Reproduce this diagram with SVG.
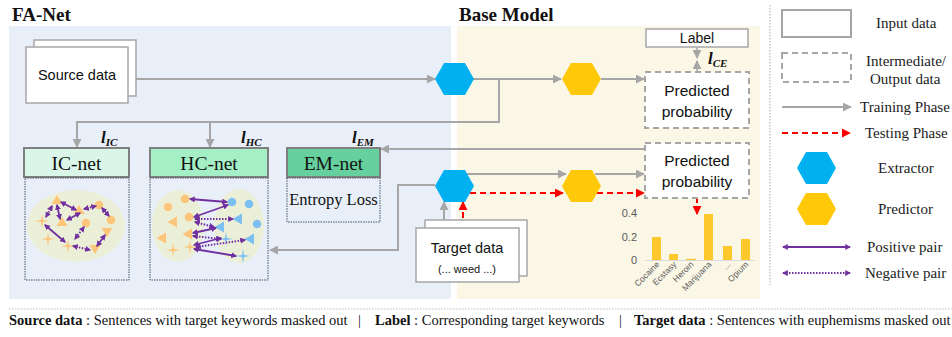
<svg xmlns="http://www.w3.org/2000/svg" width="952" height="337" viewBox="0 0 952 337">
<style>
.ttl{font-family:"Liberation Serif","Times New Roman",serif;font-weight:bold;font-size:19px;fill:#111}
.sans{font-family:"Liberation Sans",Arial,sans-serif;fill:#111}
.serif{font-family:"Liberation Serif","Times New Roman",serif;fill:#111}
.loss{font-family:"Liberation Serif","Times New Roman",serif;font-weight:bold;font-style:italic;fill:#111}
.inbox{fill:#fff;stroke:#a6a6a6;stroke-width:1.5}
.dbox{fill:#fff;stroke:#a6a6a6;stroke-width:2;stroke-dasharray:6 4}
.hdr{stroke:#7f7f7f;stroke-width:2}
.dot{fill:none;stroke:#44546a;stroke-width:1;stroke-dasharray:1.5 1}
.gl{fill:none;stroke:#a6a6a6;stroke-width:2}
.rl{fill:none;stroke:#ff0000;stroke-width:2;stroke-dasharray:6 4}
.ext{fill:#00b0f0}
.pre{fill:#ffc90a}
.pp{fill:none;stroke:#7030a0;stroke-width:1.8}
.np{fill:none;stroke:#7030a0;stroke-width:2;stroke-dasharray:1.5 1.5}
.o{fill:#fcc57a}
.b{fill:#7cc0f2}
.bar{fill:#fcc82c}
.ax{font-family:"Liberation Sans",Arial,sans-serif;font-size:11px;fill:#595959}
.xl{font-family:"Liberation Sans",Arial,sans-serif;font-size:8.5px;fill:#595959}
.leg{font-family:"Liberation Serif","Times New Roman",serif;font-size:15px;fill:#222}
.ft{font-family:"Liberation Serif","Times New Roman",serif;font-size:14.5px;fill:#111}
</style>
<defs>
<marker id="ag" viewBox="0 0 10 10" refX="9" refY="5" markerWidth="9" markerHeight="9" markerUnits="userSpaceOnUse" orient="auto"><path d="M0,0 L10,5 L0,10 z" fill="#a6a6a6"/></marker>
<marker id="ar" viewBox="0 0 10 10" refX="9" refY="5" markerWidth="9" markerHeight="9" markerUnits="userSpaceOnUse" orient="auto"><path d="M0,0 L10,5 L0,10 z" fill="#ff0000"/></marker>
<marker id="ap" viewBox="0 0 10 10" refX="8" refY="5" markerWidth="6" markerHeight="6" markerUnits="userSpaceOnUse" orient="auto-start-reverse"><path d="M0,0 L10,5 L0,10 z" fill="#7030a0"/></marker>
<circle id="cir" r="4.3"/>
<path id="tu" d="M0,-5 L5.5,4 L-5.5,4Z"/>
<path id="td" d="M0,5 L5.5,-4 L-5.5,-4Z"/>
<path id="tl" d="M-5.5,0 L4,-5.5 L4,5.5Z"/>
<path id="st" d="M0,-7 L1,-1 L7,0 L1,1 L0,7 L-1,1 L-7,0 L-1,-1Z"/>
<path id="hex" d="M0,0 L9,-16 L30,-16 L39,0 L30,16 L9,16Z"/>
</defs>

<!-- backgrounds -->
<rect x="9" y="26" width="442" height="273" fill="#e9eff9"/>
<rect x="457" y="26" width="303" height="273" fill="#fbf7e7"/>
<line x1="770" y1="5" x2="770" y2="285" stroke="#aaa" stroke-width="1" stroke-dasharray="1.5 1.5"/>
<line x1="9" y1="309" x2="952" y2="309" stroke="#bbb" stroke-width="1" stroke-dasharray="1.5 1.5"/>

<text class="ttl" x="12" y="21">FA-Net</text>
<text class="ttl" x="459" y="21">Base Model</text>

<!-- connectors -->
<g id="connectors">
<line class="gl" x1="136" y1="79" x2="435" y2="79" marker-end="url(#ag)"/>
<line class="gl" x1="473" y1="79" x2="561" y2="79" marker-end="url(#ag)"/>
<line class="gl" x1="601" y1="79" x2="644" y2="79" marker-end="url(#ag)"/>
<polyline class="gl" points="499,79 499,122 77,122 77,147" marker-end="url(#ag)"/>
<line class="gl" x1="210" y1="122" x2="210" y2="147" marker-end="url(#ag)"/>
<line class="gl" x1="697" y1="48" x2="697" y2="58" marker-end="url(#ag)" style="stroke-width:1.5"/>
<line class="gl" x1="697" y1="71" x2="697" y2="61" marker-end="url(#ag)" style="stroke-width:1.5"/>
<line class="gl" x1="645" y1="149" x2="381" y2="149" marker-end="url(#ag)"/>
<polyline class="gl" points="435,185 398,185 398,250 270,250" marker-end="url(#ag)"/>
<line class="gl" x1="444" y1="220" x2="444" y2="202" marker-end="url(#ag)"/>
<line class="rl" x1="463" y1="228" x2="463" y2="202" marker-end="url(#ar)"/>
<line class="gl" x1="467" y1="174" x2="566" y2="174" marker-end="url(#ag)"/>
<line class="rl" x1="470" y1="193" x2="563" y2="193" marker-end="url(#ar)"/>
<line class="gl" x1="595" y1="174" x2="644" y2="174" marker-end="url(#ag)"/>
<line class="rl" x1="597" y1="193" x2="644" y2="193" marker-end="url(#ar)"/>
<line class="rl" x1="697" y1="199" x2="697" y2="214" marker-end="url(#ar)" style="stroke-dasharray:4 3"/>
</g>

<!-- loss labels -->
<text class="loss" x="101" y="143" font-size="17">l<tspan font-size="11" dy="3">IC</tspan></text>
<text class="loss" x="241" y="143" font-size="17">l<tspan font-size="11" dy="3">HC</tspan></text>
<text class="loss" x="352" y="143" font-size="17">l<tspan font-size="11" dy="3">EM</tspan></text>
<text class="loss" x="708" y="64" font-size="17">l<tspan font-size="11" dy="3">CE</tspan></text>

<g id="source-data">
<rect class="inbox" x="34" y="40" width="102" height="56"/>
<rect class="inbox" x="26" y="47" width="102" height="56"/>
<text class="sans" x="77" y="80" font-size="14.5" text-anchor="middle">Source data</text>
</g>

<g id="extractor-train"><use href="#hex" x="435" y="79" class="ext"/></g>
<g id="predictor-train"><use href="#hex" x="562" y="79" class="pre"/></g>
<g id="extractor-test"><use href="#hex" x="435" y="186" class="ext"/></g>
<g id="predictor-test"><use href="#hex" x="562" y="186" class="pre"/></g>

<g id="label">
<rect class="inbox" x="646" y="29" width="102" height="18"/>
<text class="sans" x="697" y="43" font-size="14" text-anchor="middle">Label</text>
</g>

<g id="pred-train">
<rect class="dbox" x="645" y="72" width="104" height="56"/>
<text class="sans" x="697" y="96" font-size="15.5" text-anchor="middle">Predicted</text>
<text class="sans" x="697" y="117" font-size="15.5" text-anchor="middle">probability</text>
</g>

<g id="pred-test">
<rect class="dbox" x="645" y="143" width="104" height="55"/>
<text class="sans" x="697" y="166" font-size="15.5" text-anchor="middle">Predicted</text>
<text class="sans" x="697" y="187" font-size="15.5" text-anchor="middle">probability</text>
</g>

<g id="target-data">
<rect class="inbox" x="425" y="220" width="102" height="56"/>
<rect class="inbox" x="416" y="228" width="103" height="54"/>
<text class="sans" x="467" y="253" font-size="14.5" text-anchor="middle">Target data</text>
<text class="sans" x="467" y="273" font-size="11" text-anchor="middle">(... weed ...)</text>
</g>

<g id="ic-net">
<rect class="hdr" x="24" y="148" width="105" height="29" fill="#d9f6e9"/>
<text class="serif" x="76.5" y="170" font-size="19.5" text-anchor="middle">IC-net</text>
<rect class="dot" x="25" y="178" width="104" height="102"/>
<ellipse cx="76" cy="226" rx="49" ry="36" fill="#ecefd7"/>
<use href="#tu" x="57" y="200" class="o"/>
<use href="#tu" x="79" y="210" class="o"/>
<use href="#tu" x="62" y="222" class="o"/>
<use href="#cir" x="99" y="205" class="o"/>
<use href="#cir" x="111" y="220" class="o"/>
<use href="#cir" x="86" y="223" class="o"/>
<use href="#td" x="107" y="232" class="o"/>
<use href="#td" x="95" y="249" class="o"/>
<use href="#st" x="42" y="221" class="o"/>
<use href="#st" x="48" y="239" class="o"/>
<use href="#st" x="68" y="246" class="o"/>
<line class="pp" x1="61" y1="202" x2="76" y2="210" marker-start="url(#ap)" marker-end="url(#ap)"/>
<line class="pp" x1="57" y1="205" x2="60" y2="219" marker-start="url(#ap)" marker-end="url(#ap)"/>
<line class="np" x1="52" y1="206" x2="46" y2="217" marker-start="url(#ap)" marker-end="url(#ap)"/>
<line class="pp" x1="67" y1="220" x2="80" y2="213" marker-start="url(#ap)" marker-end="url(#ap)"/>
<line class="np" x1="84" y1="209" x2="96" y2="206" marker-start="url(#ap)" marker-end="url(#ap)"/>
<line class="pp" x1="102" y1="208" x2="109" y2="216" marker-start="url(#ap)" marker-end="url(#ap)"/>
<line class="pp" x1="45" y1="225" x2="65" y2="242" marker-start="url(#ap)" marker-end="url(#ap)"/>
<line class="np" x1="84" y1="227" x2="75" y2="239" marker-start="url(#ap)" marker-end="url(#ap)"/>
<line class="np" x1="73" y1="246" x2="90" y2="250" marker-start="url(#ap)" marker-end="url(#ap)"/>
<line class="pp" x1="97" y1="246" x2="105" y2="235" marker-start="url(#ap)" marker-end="url(#ap)"/>
</g>

<g id="hc-net">
<rect class="hdr" x="150" y="148" width="118" height="29" fill="#a4efc6"/>
<text class="serif" x="209" y="170" font-size="19.5" text-anchor="middle">HC-net</text>
<rect class="dot" x="150" y="178" width="118" height="102"/>
<ellipse cx="178" cy="226" rx="26" ry="36" fill="#ecefd7"/>
<ellipse cx="239" cy="226" rx="25" ry="37" fill="#ecefd7"/>
<use href="#cir" x="185" y="199" class="o"/>
<use href="#cir" x="168" y="207" class="o"/>
<use href="#cir" x="189" y="217" class="o"/>
<use href="#tl" x="173" y="222" class="o"/>
<use href="#tl" x="188" y="234" class="o"/>
<use href="#tl" x="162" y="238" class="o"/>
<use href="#st" x="173" y="250" class="o"/>
<use href="#st" x="190" y="247" class="o"/>
<use href="#cir" x="232" y="202" class="b"/>
<use href="#cir" x="249" y="204" class="b"/>
<use href="#tl" x="238" y="219" class="b"/>
<use href="#tl" x="220" y="227" class="b"/>
<use href="#cir" x="257" y="224" class="b"/>
<use href="#st" x="226" y="239" class="b"/>
<use href="#tl" x="250" y="239" class="b"/>
<use href="#st" x="243" y="256" class="b"/>
<line class="pp" x1="190" y1="199" x2="227" y2="202" marker-start="url(#ap)" marker-end="url(#ap)"/>
<line class="pp" x1="194" y1="217" x2="228" y2="205" marker-start="url(#ap)" marker-end="url(#ap)"/>
<line class="np" x1="195" y1="219" x2="233" y2="219" marker-start="url(#ap)" marker-end="url(#ap)"/>
<line class="np" x1="195" y1="222" x2="214" y2="227" marker-start="url(#ap)" marker-end="url(#ap)"/>
<line class="pp" x1="193" y1="233" x2="216" y2="228" marker-start="url(#ap)" marker-end="url(#ap)"/>
<line class="np" x1="193" y1="236" x2="221" y2="239" marker-start="url(#ap)" marker-end="url(#ap)"/>
<line class="pp" x1="194" y1="245" x2="221" y2="238" marker-start="url(#ap)" marker-end="url(#ap)"/>
<line class="np" x1="196" y1="247" x2="245" y2="240" marker-start="url(#ap)" marker-end="url(#ap)"/>
<line class="pp" x1="194" y1="249" x2="236" y2="256" marker-start="url(#ap)" marker-end="url(#ap)"/>
</g>

<g id="em-net">
<rect class="hdr" x="287" y="148" width="93" height="29" fill="#66d19e"/>
<text class="serif" x="333.5" y="170" font-size="19.5" text-anchor="middle">EM-net</text>
<rect class="dot" x="287" y="178" width="93" height="44"/>
<text class="serif" x="333.5" y="205" font-size="16.5" text-anchor="middle">Entropy Loss</text>
</g>

<g id="chart">
<line x1="645" y1="260.5" x2="755" y2="260.5" stroke="#d9d9d9" stroke-width="1"/>
<text class="ax" x="637" y="217" text-anchor="end">0.4</text>
<text class="ax" x="637" y="241" text-anchor="end">0.2</text>
<text class="ax" x="637" y="264" text-anchor="end">0</text>
<rect class="bar" x="652" y="237" width="9" height="23"/>
<rect class="bar" x="669" y="254" width="9" height="6"/>
<rect class="bar" x="686" y="258.8" width="10" height="1.2"/>
<rect class="bar" x="704" y="214" width="9" height="46"/>
<rect class="bar" x="723" y="246" width="9" height="14"/>
<rect class="bar" x="741" y="239" width="9" height="21"/>
<text class="xl" transform="translate(660,265) rotate(-45)" text-anchor="end">Cocaine</text>
<text class="xl" transform="translate(677,265) rotate(-45)" text-anchor="end">Ecstasy</text>
<text class="xl" transform="translate(694,265) rotate(-45)" text-anchor="end">Heroin</text>
<text class="xl" transform="translate(712,265) rotate(-45)" text-anchor="end">Marijuana</text>
<text class="xl" transform="translate(731,265) rotate(-45)" text-anchor="end">...</text>
<text class="xl" transform="translate(749,265) rotate(-45)" text-anchor="end">Opium</text>
</g>

<g id="legend">
<rect x="782" y="10" width="69" height="27" fill="#fff" stroke="#a6a6a6" stroke-width="2"/>
<text class="leg" x="876" y="28">Input data</text>
<rect x="782" y="53" width="69" height="29" fill="#fff" stroke="#a6a6a6" stroke-width="2" stroke-dasharray="6 4"/>
<text class="leg" x="866" y="66">Intermediate/</text>
<text class="leg" x="870" y="84">Output data</text>
<line class="gl" x1="782" y1="107" x2="851" y2="107" marker-end="url(#ag)"/>
<text class="leg" x="860" y="112">Training Phase</text>
<line class="rl" x1="782" y1="133" x2="850" y2="133" marker-end="url(#ar)"/>
<text class="leg" x="865" y="138">Testing Phase</text>
<use href="#hex" x="797" y="168" class="ext"/>
<text class="leg" x="878" y="173">Extractor</text>
<use href="#hex" x="797" y="209" class="pre"/>
<text class="leg" x="878" y="214">Predictor</text>
<line class="pp" x1="783" y1="247" x2="850" y2="247" marker-start="url(#ap)" marker-end="url(#ap)"/>
<text class="leg" x="867" y="252">Positive pair</text>
<line class="np" x1="783" y1="273" x2="850" y2="273" marker-start="url(#ap)" marker-end="url(#ap)"/>
<text class="leg" x="865" y="278">Negative pair</text>
</g>

<g id="footer">
<text class="ft" x="9" y="325"><tspan font-weight="bold">Source data</tspan> : Sentences with target keywords masked out</text>
<text class="ft" x="358" y="325">|</text>
<text class="ft" x="375" y="325"><tspan font-weight="bold">Label</tspan> : Corresponding target keywords</text>
<text class="ft" x="619" y="325">|</text>
<text class="ft" x="634" y="325"><tspan font-weight="bold">Target data</tspan> : Sentences with euphemisms masked out</text>
</g>
</svg>
